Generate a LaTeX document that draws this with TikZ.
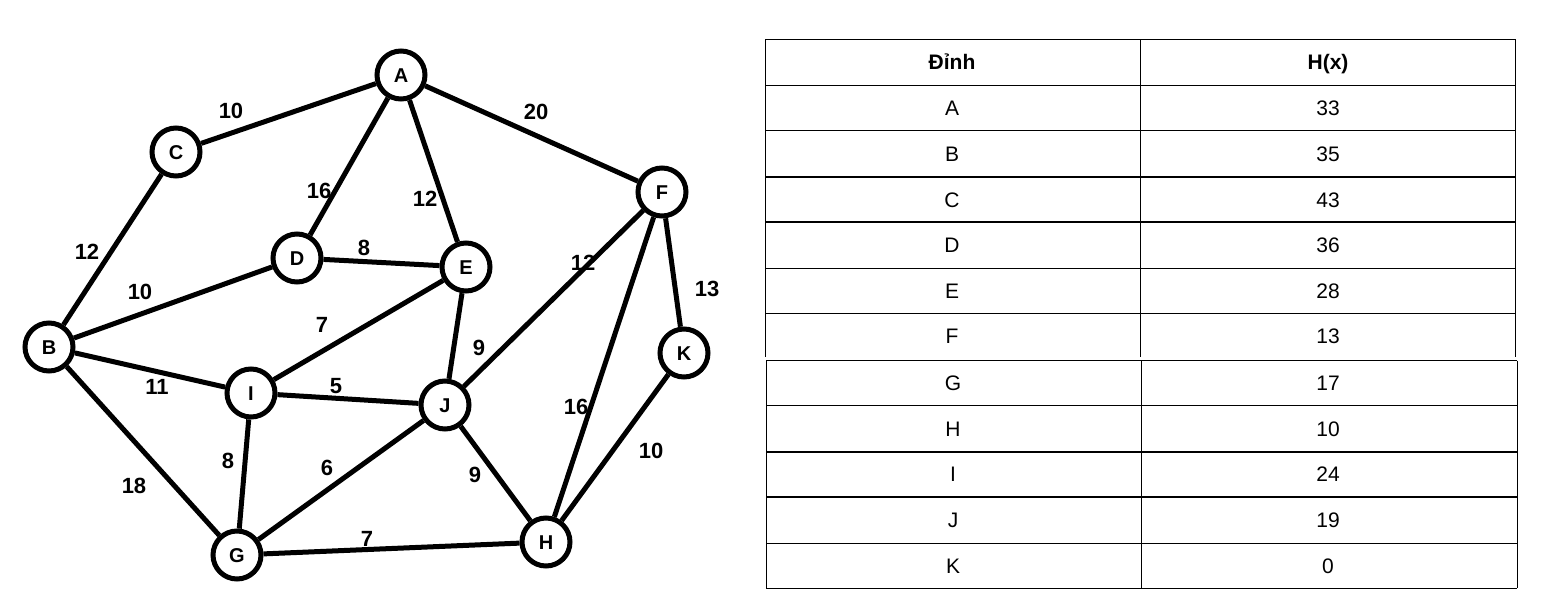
\documentclass[tikz,border=0pt]{standalone}
\usepackage{fontspec}
\setmainfont{Liberation Sans}

\begin{document}
\begin{tikzpicture}[
        x=1pt, y=-1pt,
        mycirc/.style={draw, circle, line width=5pt, minimum size=48pt, inner sep=0pt,
            font=\bfseries\fontsize{20}{20}\selectfont, text height=14.5pt, text depth=0pt},
        myedge/.style={line width=5pt},
        wlabel/.style={font=\bfseries\fontsize{22}{22}\selectfont, inner sep=0pt,
            text height=16pt, text depth=0pt}
        ]
    % Define styles
    \tikzstyle{cell} = [inner sep=0pt, font=\fontsize{21}{21}\selectfont, text height=15pt, text depth=0pt]
    \tikzstyle{hcell} = [cell, font=\bfseries\fontsize{21}{21}\selectfont]
    \tikzstyle{thin} = [line width=1pt]
    \tikzstyle{thick} = [line width=2pt]

    \useasboundingbox (0,0) rectangle (1563,605);

    % Define vertex nodes
    \node[mycirc] (A) at (401, 75) {A};
    \node[mycirc] (C) at (176, 152) {C};
    \node[mycirc] (D) at (297, 258) {D};
    \node[mycirc] (E) at (466, 267) {E};
    \node[mycirc] (F) at (662, 192) {F};
    \node[mycirc] (B) at (49, 347) {B};
    \node[mycirc] (I) at (251, 393) {I};
    \node[mycirc] (J) at (445, 405) {J};
    \node[mycirc] (K) at (684, 353) {K};
    \node[mycirc] (G) at (237, 555) {G};
    \node[mycirc] (H) at (546, 542) {H};

    % Draw edges
    \draw[myedge] (C) -- (A);
    \draw[myedge] (A) -- (F);
    \draw[myedge] (A) -- (D);
    \draw[myedge] (A) -- (E);
    \draw[myedge] (C) -- (B);
    \draw[myedge] (D) -- (E);
    \draw[myedge] (B) -- (D);
    \draw[myedge] (B) -- (I);
    \draw[myedge] (B) -- (G);
    \draw[myedge] (I) -- (E);
    \draw[myedge] (I) -- (J);
    \draw[myedge] (I) -- (G);
    \draw[myedge] (E) -- (J);
    \draw[myedge] (J) -- (F);
    \draw[myedge] (G) -- (J);
    \draw[myedge] (J) -- (H);
    \draw[myedge] (G) -- (H);
    \draw[myedge] (F) -- (H);
    \draw[myedge] (F) -- (K);
    \draw[myedge] (K) -- (H);

    % Edge weights
    \node[wlabel] (wCA) at (231, 110) {10};
    \node[wlabel] (wAF) at (536, 111) {20};
    \node[wlabel] (wAD) at (319, 190) {16};
    \node[wlabel] (wAE) at (425, 198) {12};
    \node[wlabel] (wCB) at (87, 251) {12};
    \node[wlabel] (wDE) at (364, 247) {8};
    \node[wlabel] (wBD) at (140, 291) {10};
    \node[wlabel] (wIE) at (322, 324) {7};
    \node[wlabel] (wJF) at (583, 262) {12};
    \node[wlabel] (wFK) at (707, 288) {13};
    \node[wlabel] (wEJ) at (479, 347) {9};
    \node[wlabel] (wBI) at (157, 386) {11};
    \node[wlabel] (wIJ) at (336, 385) {5};
    \node[wlabel] (wFH) at (576, 406) {16};
    \node[wlabel] (wIG) at (228, 460) {8};
    \node[wlabel] (wGJ) at (327, 467) {6};
    \node[wlabel] (wJH) at (475, 474) {9};
    \node[wlabel] (wKH) at (651, 450) {10};
    \node[wlabel] (wBG) at (134, 485) {18};
    \node[wlabel] (wGH) at (367, 538) {7};

    % Table, upper part
    \draw[thin] (765, 39.3) -- (1515.3, 39.3);
    \draw[thin] (765, 85) -- (1515.3, 85);
    \draw[thin] (765, 130.5) -- (1515.3, 130.5);
    \draw[thick] (765, 177) -- (1515.3, 177);
    \draw[thick] (765, 222) -- (1515.3, 222);
    \draw[thin] (765, 268.3) -- (1515.3, 268.3);
    \draw[thin] (765, 313.3) -- (1515.3, 313.3);
    \draw[thin] (765, 39.3) -- (765, 356.7);
    \draw[thin] (1140.7, 39.3) -- (1140.7, 356.7);
    \draw[thin] (1515.3, 39.3) -- (1515.3, 356.7);

    % Table, lower part
    \draw[thin] (766, 360.7) -- (1517, 360.7);
    \draw[thin] (766, 405.7) -- (1517, 405.7);
    \draw[thick] (766, 452) -- (1517, 452);
    \draw[thick] (766, 496.7) -- (1517, 496.7);
    \draw[thin] (766, 543.3) -- (1517, 543.3);
    \draw[thin] (766, 588.3) -- (1517, 588.3);
    \draw[thin] (766, 360.7) -- (766, 588.3);
    \draw[thin] (1141, 360.7) -- (1141, 588.3);
    \draw[thin] (1517, 360.7) -- (1517, 588.3);

    % Table texts
    \node[hcell] (hdV) at (952, 62) {Đỉnh};
    \node[hcell] (hdH) at (1328, 62) {H(x)};
    \node[cell] (vA) at (952, 108) {A};
    \node[cell] (hA) at (1328, 108) {33};
    \node[cell] (vB) at (952, 154) {B};
    \node[cell] (hB) at (1328, 154) {35};
    \node[cell] (vC) at (952, 199.5) {C};
    \node[cell] (hC) at (1328, 199.5) {43};
    \node[cell] (vD) at (952, 245) {D};
    \node[cell] (hD) at (1328, 245) {36};
    \node[cell] (vE) at (952, 291) {E};
    \node[cell] (hE) at (1328, 291) {28};
    \node[cell] (vF) at (952, 336) {F};
    \node[cell] (hF) at (1328, 336) {13};
    \node[cell] (vG) at (953, 383) {G};
    \node[cell] (hG) at (1328, 383) {17};
    \node[cell] (vH) at (953, 429) {H};
    \node[cell] (hH) at (1328, 429) {10};
    \node[cell] (vI) at (953, 474) {I};
    \node[cell] (hI) at (1328, 474) {24};
    \node[cell] (vJ) at (953, 520) {J};
    \node[cell] (hJ) at (1328, 520) {19};
    \node[cell] (vK) at (953, 566) {K};
    \node[cell] (hK) at (1328, 566) {0};

\end{tikzpicture}
\end{document}
